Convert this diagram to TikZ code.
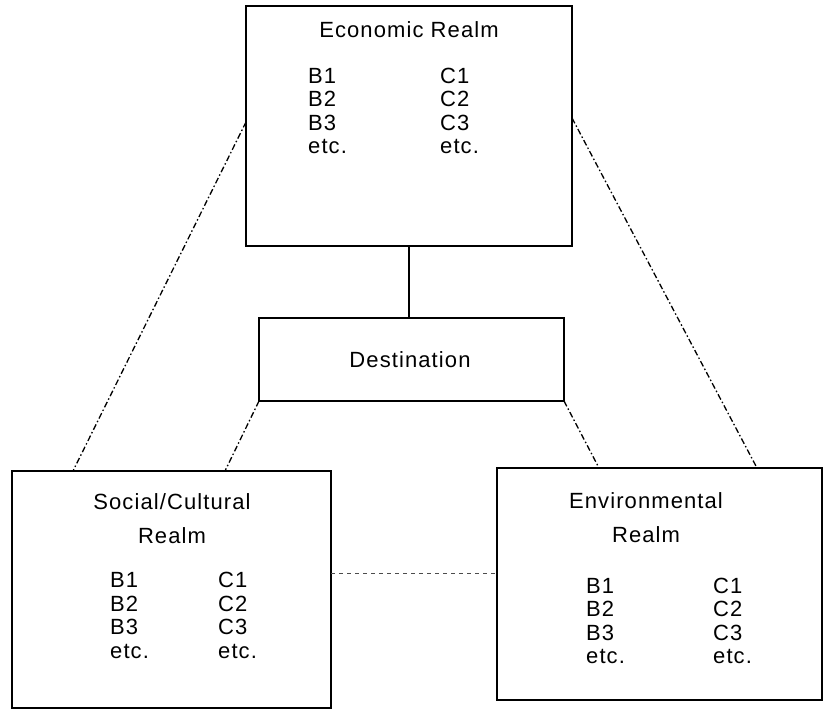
\documentclass[tikz,border=0pt]{standalone}
\usepackage{fontspec}
\setmainfont{Liberation Sans}[LetterSpace=5]
\usetikzlibrary{calc}
\begin{document}
\begin{tikzpicture}[x=1pt,y=1pt,
  realmbox/.style={draw=black, line width=1.3pt, inner sep=0pt, outer sep=0pt},
  label/.style={font=\fontsize{22}{22}\selectfont, inner sep=0pt},
  column/.style={font=\fontsize{22}{23.5}\selectfont, align=left, anchor=west, inner sep=0pt},
  title/.style={font=\fontsize{22}{34}\selectfont, align=center, inner sep=0pt},
  link/.style={line width=1.3pt, dash pattern=on 6pt off 2.5pt on 1.5pt off 2.5pt},
  tie/.style={line width=1.3pt},
  sidelink/.style={line width=0.9pt, dash pattern=on 4pt off 4pt, black!70}]
\useasboundingbox (0,0) rectangle (825,719);

% the four boxes
\node[realmbox, minimum width=326pt, minimum height=240pt] (econ) at (409,593) {};
\node[realmbox, minimum width=305pt, minimum height=83pt] (dest) at (411.5,359.5) {};
\node[realmbox, minimum width=319pt, minimum height=237pt] (social) at (171.5,129.5) {};
\node[realmbox, minimum width=325pt, minimum height=232pt] (env) at (659.5,135) {};

% Economic realm contents
\node[label] (econtitle) at (409,689) {Economic Realm};
\node[column] (econB) at (308,608) {B1\\B2\\B3\\etc.};
\node[column] (econC) at (440,608) {C1\\C2\\C3\\etc.};

% Destination
\node[label] (desttitle) at (410,359) {Destination};

% Social/Cultural realm contents
\node[title] (soctitle) at (172,200) {Social/Cultural\\Realm};
\node[column] (socB) at (110,103.5) {B1\\B2\\B3\\etc.};
\node[column] (socC) at (218,103.5) {C1\\C2\\C3\\etc.};

% Environmental realm contents
\node[title] (envtitle) at (646,201) {Environmental\\Realm};
\node[column] (envB) at (586,98) {B1\\B2\\B3\\etc.};
\node[column] (envC) at (713,98) {C1\\C2\\C3\\etc.};

% connectors
\draw[tie] (econ.south) -- (econ.south |- dest.north);
\draw[link] ([yshift=4pt]econ.west) -- ([xshift=61pt]social.north west);
\draw[link] (dest.south west) -- ([xshift=213pt]social.north west);
\draw[link] ([yshift=8pt]econ.east) -- ([xshift=-65pt]env.north east);
\draw[link] (dest.south east) -- ([xshift=102pt]env.north west);
\draw[sidelink] (social.east |- 0,146) -- (env.west |- 0,146);
\end{tikzpicture}
\end{document}
